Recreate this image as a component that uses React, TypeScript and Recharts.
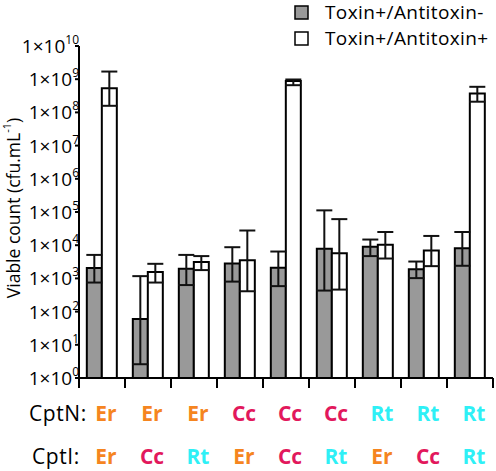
import { BarChart, Bar, XAxis, YAxis, ErrorBar, Legend } from 'recharts';

const cptN = ['Er', 'Er', 'Er', 'Cc', 'Cc', 'Cc', 'Rt', 'Rt', 'Rt'];
const cptI = ['Er', 'Cc', 'Rt', 'Er', 'Cc', 'Rt', 'Er', 'Cc', 'Rt'];

// Toxin+/Antitoxin- (grey)
const minusMean = [2040, 60, 1950, 2800, 2090, 7800, 8950, 1900, 8150];
const minusLow = [750, 2.6, 630, 800, 585, 430, 4700, 1020, 2400];
const minusHigh = [5100, 1170, 5100, 8700, 6450, 112000, 14800, 3220, 25000];

// Toxin+/Antitoxin+ (white)
const plusMean = [5.3e8, 1550, 3100, 3550, 8.9e8, 5760, 10300, 6900, 3.7e8];
const plusLow = [1.58e8, 750, 1780, 410, 6.6e8, 460, 3970, 2340, 2.1e8];
const plusHigh = [1.7e9, 2750, 4700, 27700, 9.8e8, 61000, 25000, 19000, 5.9e8];

const yTicks = [1, 1e1, 1e2, 1e3, 1e4, 1e5, 1e6, 1e7, 1e8, 1e9, 1e10];

const strainColor: Record<string, string> = { Er: '#f5851f', Cc: '#e2185c', Rt: '#2ef0f6' };

const data = cptN.map((n, i) => ({
  name: `${n}-${cptI[i]}`,
  minus: minusMean[i],
  minusErr: [minusMean[i] - minusLow[i], minusHigh[i] - minusMean[i]],
  plus: plusMean[i],
  plusErr: [plusMean[i] - plusLow[i], plusHigh[i] - plusMean[i]],
}));

const FONT = '"Open Sans", sans-serif';
const BAND = 46;

function YTick({ x, y, payload }: any) {
  const exp = Math.round(Math.log10(payload.value));
  return (
    <text x={x + 4} y={y + 7} textAnchor="end" fontFamily={FONT} fontSize={19} fill="#000">
      1×10
      <tspan dy={-9} fontSize={12}>{exp}</tspan>
    </text>
  );
}

function XTick({ x, y, index }: any) {
  const h = BAND / 2;
  return (
    <g>
      <line x1={x - h} x2={x - h} y1={y} y2={y + 10} stroke="#000" strokeWidth={2} />
      {index === cptN.length - 1 && <line x1={x + h} x2={x + h} y1={y} y2={y + 10} stroke="#000" strokeWidth={2} />}
      {index === 0 && (
        <>
          <text x={x - 73} y={y + 35} dominantBaseline="central" fontFamily={FONT} fontSize={21} letterSpacing={0.6} fill="#000">CptN:</text>
          <text x={x - 70} y={y + 78} dominantBaseline="central" fontFamily={FONT} fontSize={21} letterSpacing={0.6} fill="#000">CptI:</text>
        </>
      )}
      <text x={x + 4} y={y + 35} textAnchor="middle" dominantBaseline="central" fontFamily={FONT} fontSize={21} fontWeight={700} fill={strainColor[cptN[index]]}>
        {cptN[index]}
      </text>
      <text x={x + 4} y={y + 78} textAnchor="middle" dominantBaseline="central" fontFamily={FONT} fontSize={21} fontWeight={700} fill={strainColor[cptI[index]]}>
        {cptI[index]}
      </text>
    </g>
  );
}

function YLabel({ viewBox }: any) {
  const cy = viewBox.y + viewBox.height / 2 - 4;
  return (
    <text x={13} y={cy} transform={`rotate(-90, 13, ${cy})`} textAnchor="middle" dominantBaseline="central" fontFamily={FONT} fontSize={17.5} fill="#000">
      Viable count (cfu.mL
      <tspan dy={-7} fontSize={11}>-1</tspan>
      <tspan dy={7}>)</tspan>
    </text>
  );
}

function LegendBox() {
  return (
    <svg width={206} height={50}>
      <rect x={5} y={6} width={13} height={13} fill="#999" stroke="#000" strokeWidth={1.5} />
      <text x={35} y={12} dominantBaseline="central" fontFamily={FONT} fontSize={19} letterSpacing={0.4} fill="#000">Toxin+/Antitoxin-</text>
      <rect x={5} y={32} width={13} height={13} fill="#fff" stroke="#000" strokeWidth={1.5} />
      <text x={35} y={38} dominantBaseline="central" fontFamily={FONT} fontSize={19} letterSpacing={0.4} fill="#000">Toxin+/Antitoxin+</text>
    </svg>
  );
}

export default function App() {
  return (
    <div style={{ position: 'absolute', left: 0, top: 0, background: '#fff' }}>
      <BarChart width={496} height={471} data={data} margin={{ top: 46, right: 3, bottom: 0, left: 0 }} barCategoryGap="17%" barGap={0}>
        <Legend layout="horizontal" verticalAlign="middle" content={<LegendBox />} wrapperStyle={{ top: 0, left: 290, width: 206 }} />
        <XAxis dataKey="name" height={93} axisLine={{ stroke: '#000', strokeWidth: 2 }} tickLine={false} tickSize={0} tickMargin={0} tick={<XTick />} interval={0} />
        <YAxis
          scale="log"
          domain={[1, 1e10]}
          allowDataOverflow
          ticks={yTicks}
          interval={0}
          width={79}
          axisLine={{ stroke: '#000', strokeWidth: 2 }}
          tickLine={{ stroke: '#000', strokeWidth: 2 }}
          tickSize={4}
          tickMargin={0}
          tick={<YTick />}
          label={<YLabel />}
        />
        <Bar dataKey="minus" fill="#999" stroke="#000" strokeWidth={2} isAnimationActive={false}>
          <ErrorBar dataKey="minusErr" width={8} stroke="#111" strokeWidth={2} />
        </Bar>
        <Bar dataKey="plus" fill="#fff" stroke="#000" strokeWidth={2} isAnimationActive={false}>
          <ErrorBar dataKey="plusErr" width={8} stroke="#111" strokeWidth={2} />
        </Bar>
      </BarChart>
    </div>
  );
}
